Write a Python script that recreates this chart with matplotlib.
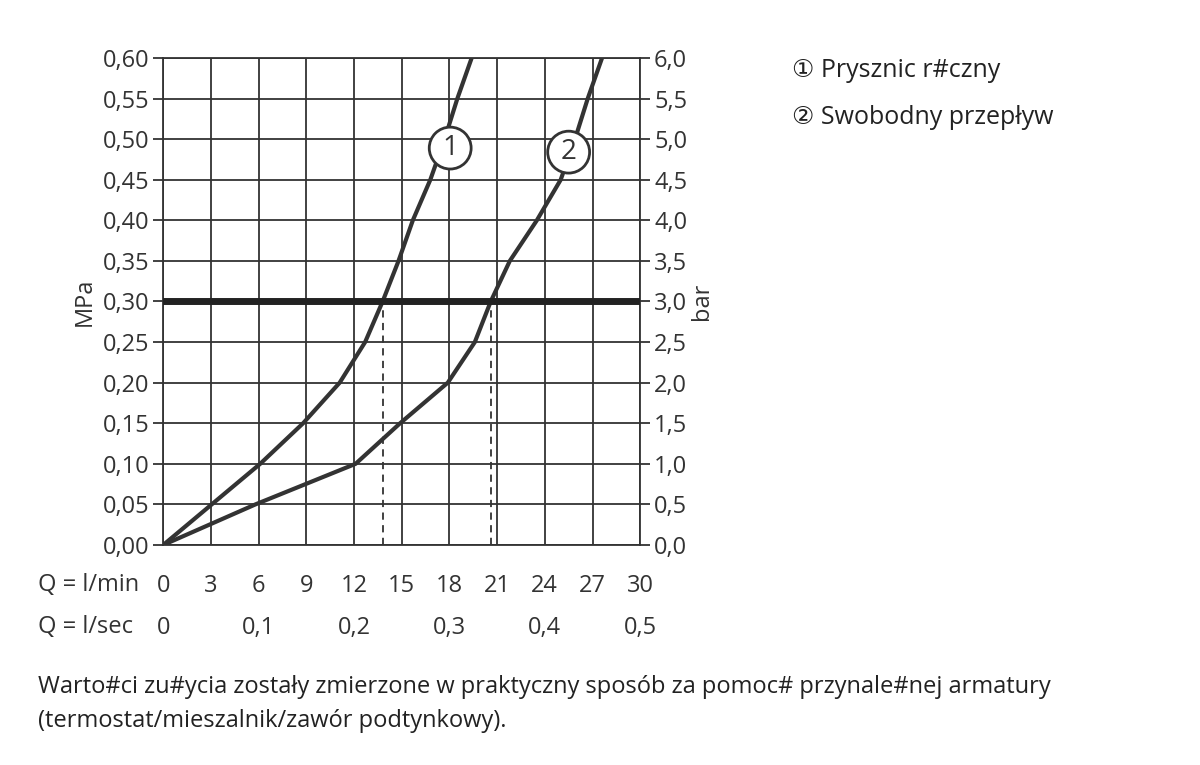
import matplotlib
matplotlib.use("Agg")
import matplotlib.pyplot as plt
import numpy as np

plt.rcParams['font.family'] = ['Open Sans', 'DejaVu Sans']

# curve 1: Prysznic reczny, curve 2: Swobodny przeplyw (Q l/min, p MPa)
q1 = [0, 6.1, 8.8, 11.1, 12.7, 13.8, 14.8, 15.7, 16.8, 17.7, 18.5, 19.4]
p1 = [0, 0.10, 0.15, 0.20, 0.25, 0.30, 0.35, 0.40, 0.45, 0.50, 0.55, 0.60]
q2 = [0, 5.8, 12.1, 14.9, 17.9, 19.6, 20.6, 21.8, 23.5, 25.0, 25.9, 26.7, 27.6]
p2 = [0, 0.05, 0.10, 0.15, 0.20, 0.25, 0.30, 0.35, 0.40, 0.45, 0.50, 0.55, 0.60]
p_work = 0.30
q_work = [13.8, 20.6]
lmin_ticks = [0, 3, 6, 9, 12, 15, 18, 21, 24, 27, 30]
lsec_labels = {0: "0", 6: "0,1", 12: "0,2", 18: "0,3", 24: "0,4", 30: "0,5"}
mpa_ticks = np.arange(0, 0.61, 0.05)

fig = plt.figure(figsize=(12, 7.65), dpi=100)
ax = fig.add_axes([0.136, 0.2876, 0.3975, 0.6366])
col = '#333333'
fs = 17
ax.set_xlim(0, 30)
ax.set_ylim(0, 0.60)
ax.set_xticks(lmin_ticks)
ax.set_yticks(mpa_ticks)
ax.grid(True, color=col, lw=1.3)
ax.set_xticklabels([])
ax.tick_params(axis='x', length=0)
ax.set_yticklabels([f"{v:.2f}".replace('.', ',') for v in mpa_ticks], fontsize=fs, color=col)
ax.tick_params(axis='y', length=7, width=1.3, color=col, pad=3)
for s in ax.spines.values():
    s.set_color(col); s.set_linewidth(1.3)
ax.set_ylabel("MPa", fontsize=fs, color=col, labelpad=4)

ax2 = ax.twinx()
ax2.set_ylim(0, 6.0)
ax2.set_yticks(mpa_ticks * 10)
ax2.set_yticklabels([f"{v*10:.1f}".replace('.', ',') for v in mpa_ticks], fontsize=fs, color=col)
ax2.tick_params(axis='y', length=7, width=1.3, color=col, pad=3)
ax2.set_ylabel("bar", fontsize=fs, color=col, labelpad=2)
for s in ax2.spines.values():
    s.set_visible(False)

ax.plot(q1, p1, color=col, lw=3, zorder=3, solid_joinstyle='round')
ax.plot(q2, p2, color=col, lw=3, zorder=3, solid_joinstyle='round')
ax.axhline(p_work, color='#222222', lw=5, zorder=4)
for q in q_work:
    ax.plot([q, q], [0, p_work], color=col, lw=1.3, ls=(0, (4, 3)), zorder=3)

for x, y, t in [(18.05, 0.489, "1"), (25.5, 0.484, "2")]:
    ax.text(x, y, t, fontsize=20, color=col, ha='center', va='center', zorder=5,
            bbox=dict(boxstyle='circle,pad=0.25', fc='white', ec=col, lw=2))

for q in lmin_ticks:
    ax.text(q, -0.05, str(q), fontsize=fs, color=col, ha='center', va='center', clip_on=False)
for q, t in lsec_labels.items():
    ax.text(q, -0.102, t, fontsize=fs, color=col, ha='center', va='center', clip_on=False)
fig.text(0.032, 0.235, "Q = l/min", fontsize=fs, color=col, va='center')
fig.text(0.032, 0.18, "Q = l/sec", fontsize=fs, color=col, va='center')

fig.text(0.66, 0.908, "\u2460 Prysznic r#czny", fontsize=18, color='#222222', va='center')
fig.text(0.66, 0.846, "\u2461 Swobodny przepływ", fontsize=18, color='#222222', va='center')

fig.text(0.032, 0.102, "Warto#ci zu#ycia zostały zmierzone w praktyczny sposób za pomoc# przynale#nej armatury",
         fontsize=fs, color='#222222', va='center')
fig.text(0.032, 0.057, "(termostat/mieszalnik/zawór podtynkowy).", fontsize=fs, color='#222222', va='center')

fig.savefig("out.png", dpi=100)
